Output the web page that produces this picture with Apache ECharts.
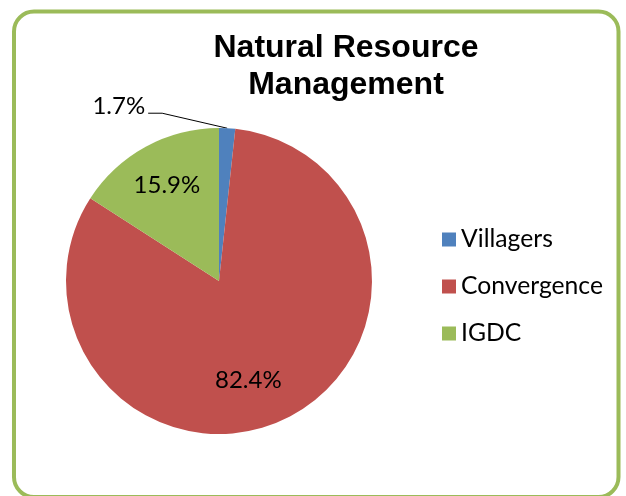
<!DOCTYPE html>
<html>
<head>
<meta charset="utf-8">
<script src="https://cdn.jsdelivr.net/npm/echarts@6/dist/echarts.min.js"></script>
<style>
  html, body { margin: 0; padding: 0; background: #fff; }
  #chart { width: 626px; height: 496px; }
</style>
</head>
<body>
<div id="chart"></div>
<script>
const categories = ['Villagers', 'Convergence', 'IGDC'];
const shares = [1.7, 82.4, 15.9];
const colors = ['#4F81BD', '#C0504D', '#9BBB59'];

const chart = echarts.init(document.getElementById('chart'));

const labelFont = { fontFamily: 'Lato', fontSize: 24, color: '#000' };

chart.setOption({
  animation: false,
  color: colors,
  graphic: [{
    type: 'rect',
    shape: { x: 14, y: 11.5, width: 604.5, height: 485.5, r: 20 },
    style: { fill: 'none', stroke: '#9BBB59', lineWidth: 4 },
    z: 0
  }],
  title: {
    text: 'Natural Resource\nManagement',
    left: 346,
    top: 30,
    padding: 0,
    textAlign: 'center',
    textStyle: {
      fontFamily: 'Liberation Sans',
      fontWeight: 'bold',
      fontSize: 32,
      lineHeight: 37,
      color: '#000'
    }
  },
  legend: {
    orient: 'vertical',
    left: 442,
    top: 227,
    itemWidth: 14,
    itemHeight: 14,
    itemGap: 22,
    icon: 'rect',
    padding: 0,
    selectedMode: false,
    data: categories,
    textStyle: { fontFamily: 'Lato', fontSize: 24.7, lineHeight: 24, color: '#000' }
  },
  series: [{
    type: 'pie',
    center: [219, 281],
    radius: 153,
    startAngle: 90,
    clockwise: true,
    avoidLabelOverlap: false,
    itemStyle: { borderWidth: 0 },
    label: Object.assign({ formatter: '{c}%' }, labelFont),
    labelLine: { lineStyle: { color: '#000', width: 1 } },
    emphasis: { disabled: true },
    data: categories.map((name, i) => ({
      name: name,
      value: shares[i],
      label: { position: i === 0 ? 'outside' : 'inside' }
    })),
    labelLayout: function (p) {
      if (p.dataIndex === 0) {
        const e = p.labelLinePoints[0];
        return {
          x: e[0] - 82,
          y: e[1] - 22,
          align: 'right',
          verticalAlign: 'middle',
          labelLinePoints: [e, [e[0] - 65, e[1] - 15], [e[0] - 79, e[1] - 15]]
        };
      }
      if (p.dataIndex === 1) return { dx: -5, dy: 28 };
      return { dx: -14, dy: -26 };
    }
  }]
});
</script>
</body>
</html>
